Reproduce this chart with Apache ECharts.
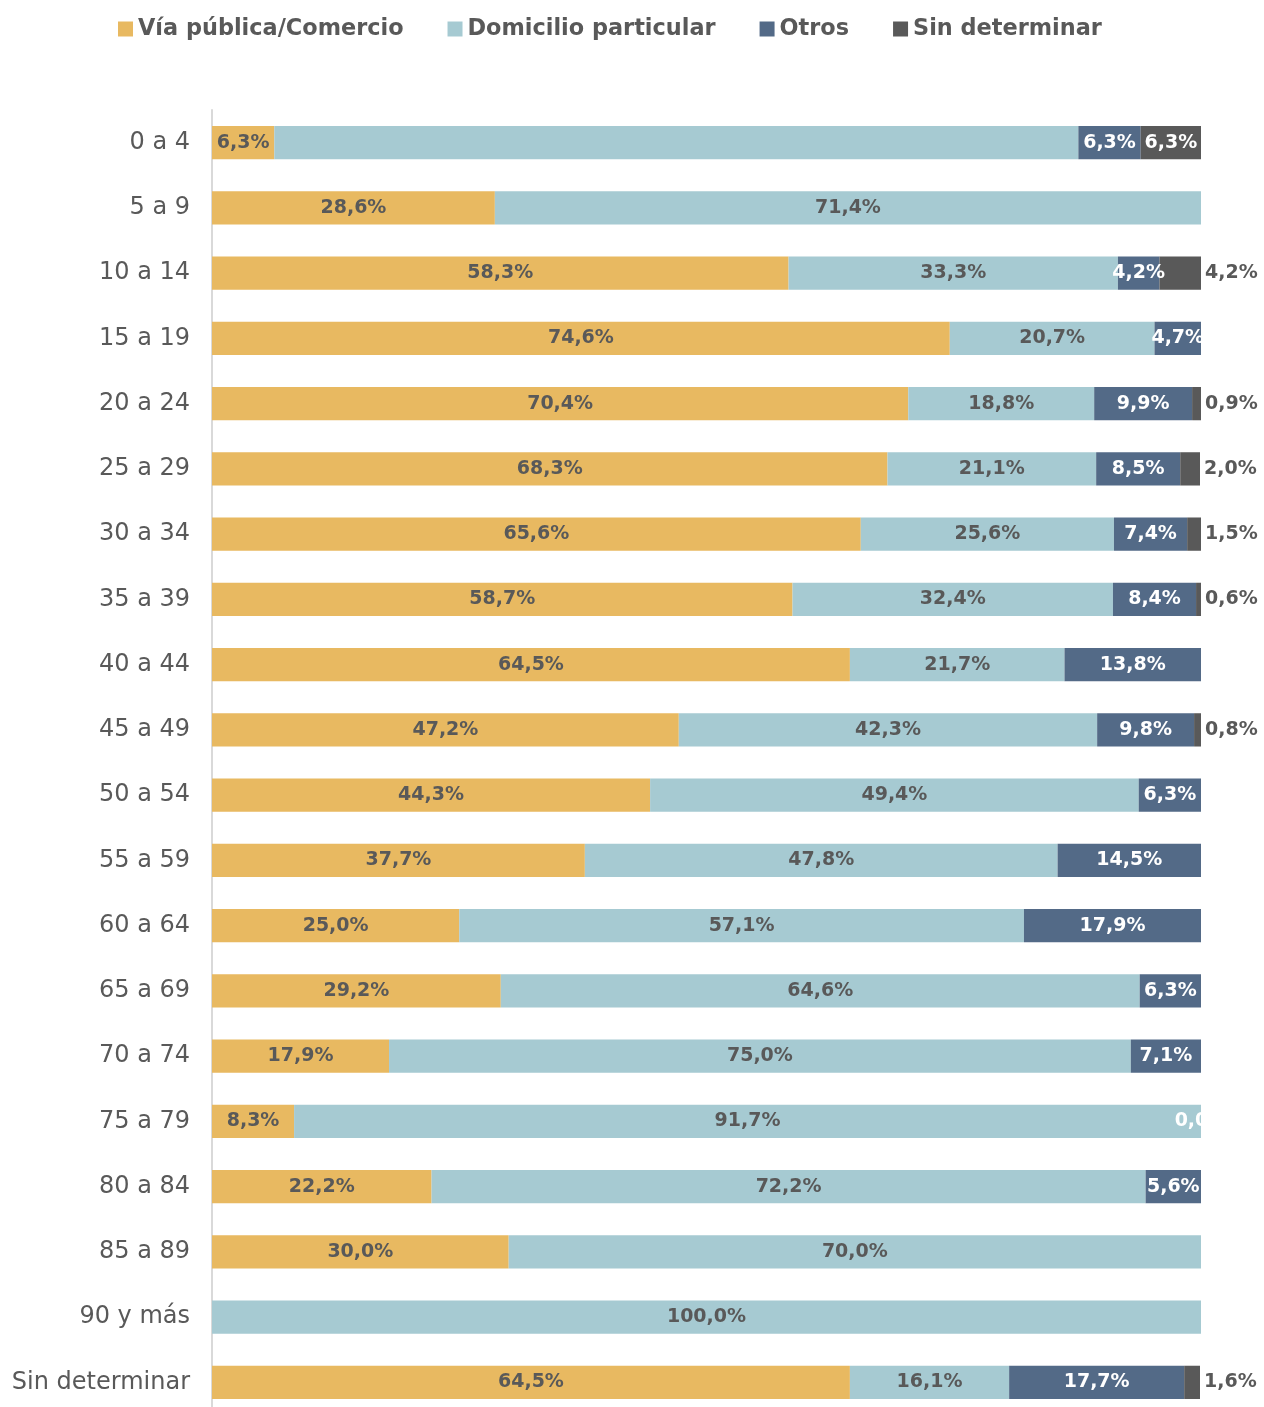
<!DOCTYPE html>
<html>
<head>
<meta charset="utf-8">
<script src="https://cdn.jsdelivr.net/npm/echarts@6/dist/echarts.min.js"></script>
<style>
  html, body { margin: 0; padding: 0; background: #fff; overflow: hidden; }
  /* a bit taller than the window: the last bar in the source is cut at the bottom edge */
  #chart { width: 1264px; height: 1415px; }
</style>
</head>
<body>
<div id="chart"></div>
<script>
const categories = ['0 a 4', '5 a 9', '10 a 14', '15 a 19', '20 a 24', '25 a 29', '30 a 34', '35 a 39',
  '40 a 44', '45 a 49', '50 a 54', '55 a 59', '60 a 64', '65 a 69', '70 a 74', '75 a 79',
  '80 a 84', '85 a 89', '90 y más', 'Sin determinar']

const viaPublica = [6.3, 28.6, 58.3, 74.6, 70.4, 68.3, 65.6, 58.7, 64.5, 47.2, 44.3, 37.7, 25.0, 29.2, 17.9, 8.3, 22.2, 30.0, null, 64.5]
const domicilio = [81.3, 71.4, 33.3, 20.7, 18.8, 21.1, 25.6, 32.4, 21.7, 42.3, 49.4, 47.8, 57.1, 64.6, 75.0, 91.7, 72.2, 70.0, 100.0, 16.1]
const otros = [6.3, null, 4.2, 4.7, 9.9, 8.5, 7.4, 8.4, 13.8, 9.8, 6.3, 14.5, 17.9, 6.3, 7.1, 0.0, 5.6, null, null, 17.7]
const sinDeterminar = [6.3, null, 4.2, null, 0.9, 2.0, 1.5, 0.6, null, 0.8, null, null, null, null, null, null, null, null, null, 1.6]

const seriesNames = ['Vía pública/Comercio', 'Domicilio particular', 'Otros', 'Sin determinar']
const colors = ['#E8B961', '#A6CAD2', '#536A87', '#595959']
const textDark = '#595959'
const fontFamily = '"DejaVu Sans", sans-serif'

function fmt(v) {
  return v.toFixed(1).replace('.', ',') + '%'
}

function labelBase(color) {
  return {
    show: true,
    position: 'inside',
    color,
    fontFamily,
    fontWeight: 'bold',
    fontSize: 19,
    formatter: (p) => fmt(p.value),
  }
}

// the label for the blue segment of "0 a 4" is absent in the reference
const domicilioData = domicilio.map((v, i) => (i === 0 ? { value: v, label: { show: false } } : v))

// small "Sin determinar" values are labelled outside the bar
const sinData = sinDeterminar.map((v) => {
  if (v === null || v >= 5) return v
  return { value: v, label: { position: 'right', distance: 4, color: textDark } }
})

const chart = echarts.init(document.getElementById('chart'))

chart.setOption({
  animation: false,
  color: colors,
  legend: {
    top: 13,
    left: 113,
    itemWidth: 15,
    itemHeight: 15,
    itemGap: 44,
    icon: 'rect',
    textStyle: { color: textDark, fontFamily, fontWeight: 'bold', fontSize: 22.4 },
  },
  grid: { left: 212, right: 63, top: 110, bottom: 0 },
  xAxis: {
    type: 'value',
    min: 0,
    max: 100,
    show: false,
  },
  yAxis: {
    type: 'category',
    inverse: true,
    data: categories,
    axisLine: { show: true, lineStyle: { color: '#D9D9D9', width: 2 } },
    axisTick: { show: false },
    axisLabel: { color: textDark, fontFamily, fontSize: 24, margin: 22 },
  },
  series: [
    { name: seriesNames[0], type: 'bar', stack: 'total', barWidth: '51%', data: viaPublica, label: labelBase(textDark) },
    { name: seriesNames[1], type: 'bar', stack: 'total', barWidth: '51%', data: domicilioData, label: labelBase(textDark) },
    { name: seriesNames[2], type: 'bar', stack: 'total', barWidth: '51%', data: otros, label: labelBase('#fff') },
    { name: seriesNames[3], type: 'bar', stack: 'total', barWidth: '51%', data: sinData, label: labelBase('#fff') },
  ],
})

window.addEventListener('resize', () => chart.resize())
</script>
</body>
</html>
